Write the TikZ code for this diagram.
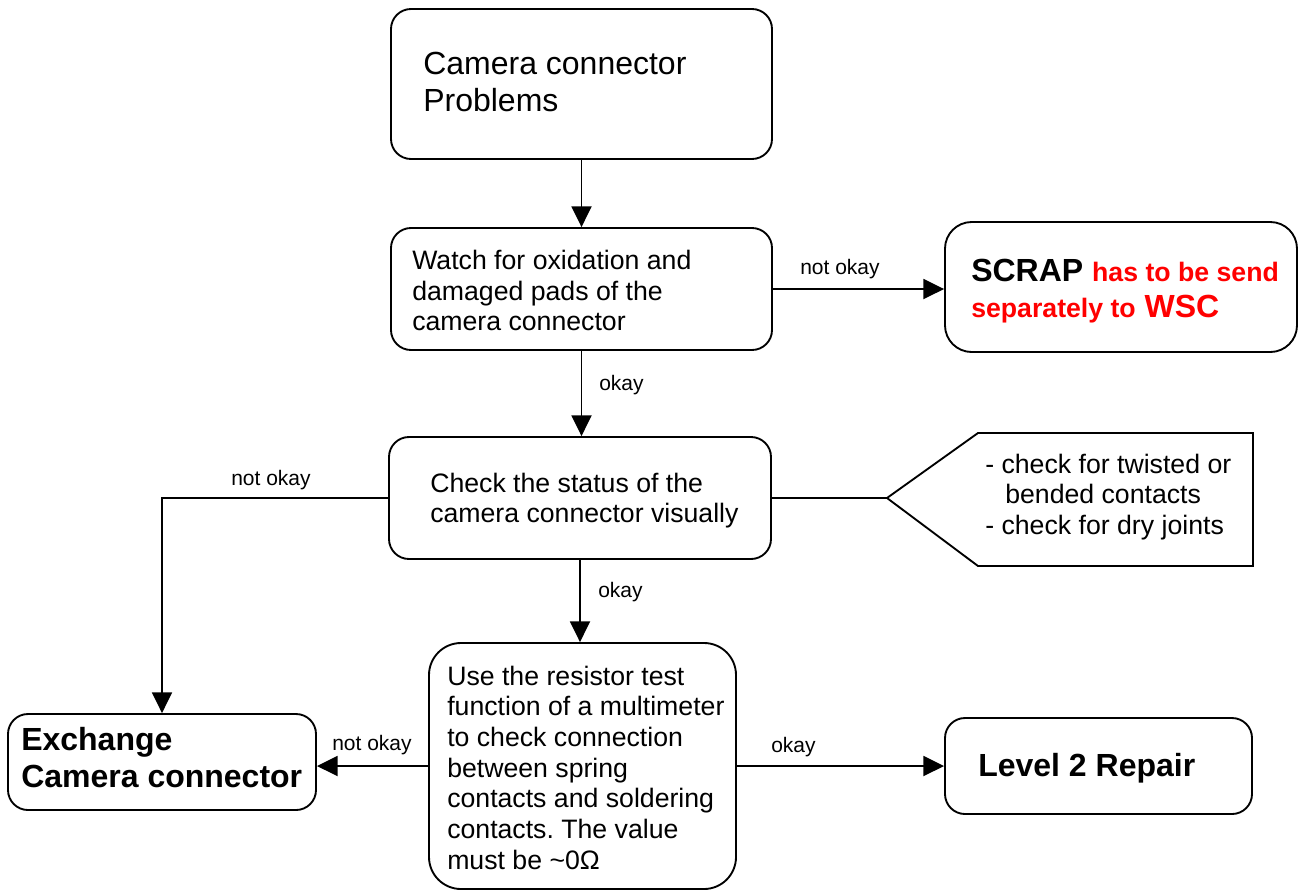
\documentclass[tikz,border=0pt]{standalone}
\usepackage{fontspec}
\setmainfont{Liberation Sans}
\usetikzlibrary{arrows.meta}
\frenchspacing
\begin{document}
\begin{tikzpicture}[x=0.75pt,y=-0.75pt,
  box/.style={draw, line width=1.4pt, rounded corners=15pt, inner sep=0pt},
  conn/.style={line width=1.4pt},
  arr/.style={conn, -{Triangle[length=15.5pt,width=15pt]}},
  body/.style={anchor=base west, inner sep=0pt, font=\fontsize{20}{23}\selectfont},
  big/.style={anchor=base west, inner sep=0pt, font=\fontsize{24}{27.6}\selectfont},
  bigb/.style={anchor=base west, inner sep=0pt, font=\fontsize{24}{27.6}\selectfont\bfseries},
  lab/.style={anchor=base west, inner sep=0pt, font=\fontsize{15.75}{18}\selectfont}]
\useasboundingbox (0,0) rectangle (1299,890);

% boxes
\node[box, minimum width=285.75pt, minimum height=112.5pt] (b1) at (581.5,84) {};
\node[box, minimum width=285.75pt, minimum height=91.5pt] (b2) at (581.5,289) {};
\node[box, rounded corners=20pt, minimum width=264pt, minimum height=97.5pt] (scrap) at (1121,287) {};
\node[box, minimum width=286.5pt, minimum height=91.5pt] (b3) at (580,498) {};
\node[box, rounded corners=24pt, minimum width=230.25pt, minimum height=184.5pt] (res) at (582.5,766) {};
\node[box, minimum width=231pt, minimum height=72pt] (exch) at (162,762) {};
\node[box, minimum width=230.25pt, minimum height=72pt] (lvl) at (1098.5,766) {};

% callout
\coordinate (tip) at (887,498);
\coordinate (ctl) at (978,433);
\coordinate (ctr) at (1253,433);
\coordinate (cbr) at (1253,566);
\coordinate (cbl) at (978,566);
\draw[conn] (tip) -- (ctl) -- (ctr) -- (cbr) -- (cbl) -- cycle;

% connectors
\draw[arr] (b1.south) -- (b2.north);
\draw[arr] (b2.east) -- (b2.east -| scrap.west);
\draw[arr] (b2.south) -- (b2.south |- b3.north);
\draw[conn] (b3.east) -- (tip);
\draw[arr] (b3.west) -| (exch.north);
\draw[arr] (b3.south) -- (b3.south |- res.north);
\draw[arr] (res.west) -- (res.west -| exch.east);
\draw[arr] (res.east) -- (res.east -| lvl.west);

% connector labels
\node[lab] (l1) at (800,274) {not okay};
\node[lab] (l2) at (599,390) {okay};
\node[lab] (l3) at (231,485) {not okay};
\node[lab] (l4) at (598,597) {okay};
\node[lab] (l5) at (332,750) {not okay};
\node[lab] (l6) at (771,752) {okay};

% texts
\node[big] (t1a) at (423,74) {Camera connector};
\node[big] (t1b) at (423,111) {Problems};

\node[body] (t2a) at (412,269) {Watch for oxidation and};
\node[body] (t2b) at (412,300) {damaged pads of the};
\node[body] (t2c) at (412,330) {camera connector};

\node[bigb] (s1) at (971,281) {SCRAP {\color{red}\fontsize{20}{23}\selectfont has to be send}};
\node[bigb, text=red] (s2) at (971,317) {{\fontsize{20}{23}\selectfont separately to} WSC};

\node[body] (t3a) at (430,492) {Check the status of the};
\node[body] (t3b) at (430,522) {camera connector visually};

\node[body] (c1) at (985,473) {- check for twisted or};
\node[body] (c2) at (1005,503) {bended contacts};
\node[body] (c3) at (985,534) {- check for dry joints};

\node[body] (r1) at (447,685) {Use the resistor test};
\node[body] (r2) at (447,715.7) {function of a multimeter};
\node[body] (r3) at (447,746.4) {to check connection};
\node[body] (r4) at (447,777.1) {between spring};
\node[body] (r5) at (447,807.8) {contacts and soldering};
\node[body] (r6) at (447,838.5) {contacts. The value};
\node[body] (r7) at (447,869.2) {must be \textasciitilde0Ω};

\node[bigb] (e1) at (21,750) {Exchange};
\node[bigb] (e2) at (21,787) {Camera connector};

\node[bigb] (lv) at (978,776) {Level 2 Repair};
\end{tikzpicture}
\end{document}
